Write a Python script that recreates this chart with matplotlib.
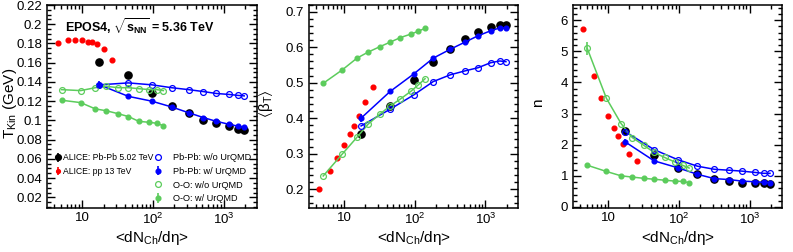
import numpy as np
import matplotlib
matplotlib.use('Agg')
import matplotlib.pyplot as plt
from matplotlib.ticker import FixedLocator, FixedFormatter, MultipleLocator, LogLocator, NullFormatter

plt.rcParams['font.family'] = ['Liberation Sans', 'DejaVu Sans']
plt.rcParams['mathtext.fontset'] = 'custom'
plt.rcParams['mathtext.rm'] = 'Liberation Sans'
plt.rcParams['mathtext.it'] = 'Liberation Sans:italic'
plt.rcParams['mathtext.bf'] = 'Liberation Sans:bold'
plt.rcParams['mathtext.default'] = 'regular'

# multiplicities <dNch/deta>
x_pbpb = [17.5, 44.9, 96.3, 183, 318, 512, 786, 1180, 1587, 1943]
x_pp = [4.5, 6.32, 7.95, 10.0, 12.0, 13.8, 16.2, 20.0, 26.0]
x_oo = [5.1, 9.5, 15.3, 22, 32, 45, 63, 89, 113, 140]

# T_kin (GeV)
tkin_alice_pbpb = [0.161, 0.147, 0.129, 0.115, 0.108, 0.100, 0.097, 0.094, 0.091, 0.090]
tkin_alice_pp = [0.181, 0.184, 0.184, 0.184, 0.182, 0.182, 0.179, 0.174, 0.163]
tkin_pbpb_wo = [0.137, 0.139, 0.137, 0.134, 0.132, 0.130, 0.128, 0.127, 0.126, 0.1255]
tkin_pbpb_w = [0.137, 0.125, 0.120, 0.114, 0.108, 0.103, 0.099, 0.096, 0.094, 0.093]
tkin_oo_wo = [0.132, 0.131, 0.134, 0.1355, 0.134, 0.134, 0.133, 0.132, 0.132, 0.131]
tkin_oo_w = [0.121, 0.1185, 0.112, 0.110, 0.107, 0.104, 0.099, 0.098, 0.097, 0.0945]
tkin_pbpb_w_err = [0.004, 0, 0, 0, 0, 0, 0, 0, 0, 0]

# <beta_T>
beta_alice_pbpb = [0.355, 0.434, 0.506, 0.558, 0.594, 0.622, 0.642, 0.656, 0.661, 0.663]
beta_alice_pp = [0.201, 0.251, 0.287, 0.325, 0.356, 0.378, 0.406, 0.445, 0.489]
beta_pbpb_wo = [0.378, 0.425, 0.465, 0.503, 0.522, 0.533, 0.542, 0.556, 0.561, 0.559]
beta_pbpb_w = [0.400, 0.475, 0.524, 0.569, 0.594, 0.614, 0.632, 0.646, 0.654, 0.654]
beta_oo_wo = [0.237, 0.299, 0.346, 0.383, 0.411, 0.434, 0.454, 0.476, 0.494, 0.511]
beta_oo_w = [0.498, 0.536, 0.569, 0.586, 0.601, 0.614, 0.627, 0.637, 0.645, 0.653]
beta_pbpb_w_err = [0.012, 0, 0, 0, 0, 0, 0, 0, 0, 0]

# n
n_alice_pbpb = [2.43, 1.68, 1.25, 1.05, 0.91, 0.84, 0.78, 0.76, 0.76, 0.75]
n_alice_pp = [5.71, 4.21, 3.49, 2.91, 2.52, 2.27, 2.02, 1.71, 1.48]
n_pbpb_wo = [2.42, 1.84, 1.52, 1.31, 1.21, 1.18, 1.15, 1.11, 1.08, 1.08]
n_pbpb_w = [2.09, 1.48, 1.26, 1.05, 0.91, 0.88, 0.83, 0.81, 0.79, 0.78]
n_oo_wo = [5.09, 3.49, 2.68, 2.23, 1.98, 1.75, 1.59, 1.44, 1.34, 1.25]
n_oo_w = [1.34, 1.14, 1.00, 0.96, 0.92, 0.89, 0.86, 0.83, 0.82, 0.78]
n_pbpb_w_err = [0.1, 0, 0, 0, 0, 0, 0, 0, 0, 0]
n_oo_wo_err = [0.22, 0, 0, 0, 0, 0, 0, 0, 0, 0]

blue = '#0000ff'
green = '#5ccc5c'
red = '#ff0000'

fig = plt.figure(figsize=(7.93, 2.52), dpi=100)
lefts = [0.0595, 0.3895, 0.7225]
axes = [fig.add_axes([l, 0.175, 0.264, 0.807]) for l in lefts]

panels = [
    (tkin_alice_pbpb, tkin_alice_pp, tkin_pbpb_wo, tkin_pbpb_w, tkin_oo_wo, tkin_oo_w,
     tkin_pbpb_w_err, None, (0.009, 0.2205), 0.02, 0.005, 'T$_{Kin}$ (GeV)', -0.135),
    (beta_alice_pbpb, beta_alice_pp, beta_pbpb_wo, beta_pbpb_w, beta_oo_wo, beta_oo_w,
     beta_pbpb_w_err, None, (0.147, 0.72), 0.1, 0.02, r'$\langle\beta_{T}\rangle$', -0.16),
    (n_alice_pbpb, n_alice_pp, n_pbpb_wo, n_pbpb_w, n_oo_wo, n_oo_w,
     n_pbpb_w_err, n_oo_wo_err, (-0.03, 6.5), 1, 0.2, 'n', -0.135),
]

for ax, p in zip(axes, panels):
    (a_pb, a_pp, m_wo, m_w, o_wo, o_w, m_w_err, o_wo_err, ylim, major, minor, ylab, labx) = p
    ax.errorbar(x_pbpb, a_pb, yerr=np.zeros(len(a_pb)), fmt='o', color='black',
                ms=5.2, elinewidth=1.2, capsize=0, zorder=3, label='ALICE: Pb-Pb 5.02 TeV')
    ax.errorbar(x_pp, a_pp, yerr=np.zeros(len(a_pp)), fmt='o', color=red,
                ms=3.4, elinewidth=1.2, capsize=0, zorder=3, label='ALICE: pp 13 TeV')
    # model lines
    ax.plot(x_pbpb, m_wo, '-', color=blue, lw=1.1, zorder=4)
    ax.plot(x_pbpb, m_w, '-', color=blue, lw=1.1, zorder=4)
    ax.plot(x_oo, o_wo, '-', color=green, lw=1.1, zorder=4)
    ax.plot(x_oo, o_w, '-', color=green, lw=1.1, zorder=4)
    ax.plot(x_pbpb, m_wo, 'o', mfc='none', mec=blue, mew=0.9, ms=4.2, zorder=5,
            label='Pb-Pb: w/o UrQMD')
    ax.errorbar(x_pbpb, m_w, yerr=m_w_err, fmt='o', color=blue, ms=3.4,
                elinewidth=1.2, capsize=0, zorder=5, label='Pb-Pb: w/ UrQMD')
    if o_wo_err is not None:
        ax.errorbar(x_oo, o_wo, yerr=o_wo_err, fmt='none', ecolor=green, elinewidth=1.2,
                    capsize=0, zorder=5)
    ax.plot(x_oo, o_wo, 'o', mfc='none', mec=green, mew=0.9, ms=4.2, zorder=5,
            label='O-O: w/o UrQMD')
    ax.errorbar(x_oo, o_w, yerr=np.zeros(len(o_w)), fmt='o', color=green, ms=3.4,
                elinewidth=1.2, capsize=0, zorder=5, label='O-O: w/ UrQMD')

    ax.set_xscale('log')
    ax.set_xlim(3.2, 2900)
    ax.set_ylim(*ylim)
    ax.xaxis.set_major_locator(FixedLocator([10, 100, 1000]))
    ax.xaxis.set_major_formatter(FixedFormatter(['10', '$10^{2}$', '$10^{3}$']))
    ax.xaxis.set_minor_locator(LogLocator(base=10, subs=np.arange(2, 10)))
    ax.xaxis.set_minor_formatter(NullFormatter())
    ax.yaxis.set_major_locator(MultipleLocator(major))
    ax.yaxis.set_minor_locator(MultipleLocator(minor))
    ax.tick_params(which='both', direction='in', top=True, right=True, width=1.0, labelsize=9.5)
    ax.tick_params(which='major', length=6)
    ax.tick_params(which='minor', length=3)
    ax.tick_params(axis='x', pad=3)
    for s in ax.spines.values():
        s.set_linewidth(1.1)
    ax.set_xlabel(r'<dN$_{Ch}$/d$\eta$>', fontsize=11, labelpad=1)
    ax.set_ylabel(ylab, fontsize=11)
    ax.yaxis.set_label_coords(labx, 0.515)

ax = axes[0]
ax.yaxis.set_major_formatter(plt.FuncFormatter(lambda v, pos: ('%.2f' % v).rstrip('0').rstrip('.')))
axes[1].yaxis.set_major_formatter(plt.FuncFormatter(lambda v, pos: '%.1f' % v))
ax.text(0.085, 0.94, r'EPOS4, $\sqrt{\mathbf{s_{NN}}}$ = 5.36 TeV', transform=ax.transAxes,
        fontsize=9, fontweight='bold', va='top', ha='left')

hs = ax.get_legend_handles_labels()
handles = dict(zip(hs[1], hs[0]))
left_labels = ['ALICE: Pb-Pb 5.02 TeV', 'ALICE: pp 13 TeV']
right_labels = ['Pb-Pb: w/o UrQMD', 'Pb-Pb: w/ UrQMD', 'O-O: w/o UrQMD', 'O-O: w/ UrQMD']
leg1 = ax.legend([handles[k] for k in left_labels], left_labels,
                 loc='upper left', bbox_to_anchor=(0.04, 0.268), frameon=False, fontsize=6.2,
                 handlelength=0.6, handletextpad=0.3, labelspacing=0.55, borderaxespad=0,
                 borderpad=0, markerscale=0.8)
ax.add_artist(leg1)
ax.legend([handles[k] for k in right_labels], right_labels,
          loc='upper left', bbox_to_anchor=(0.515, 0.268), frameon=False, fontsize=6.6,
          handlelength=0.6, handletextpad=1.4, labelspacing=0.5, borderaxespad=0, borderpad=0)

fig.savefig('out.png', dpi=100)
